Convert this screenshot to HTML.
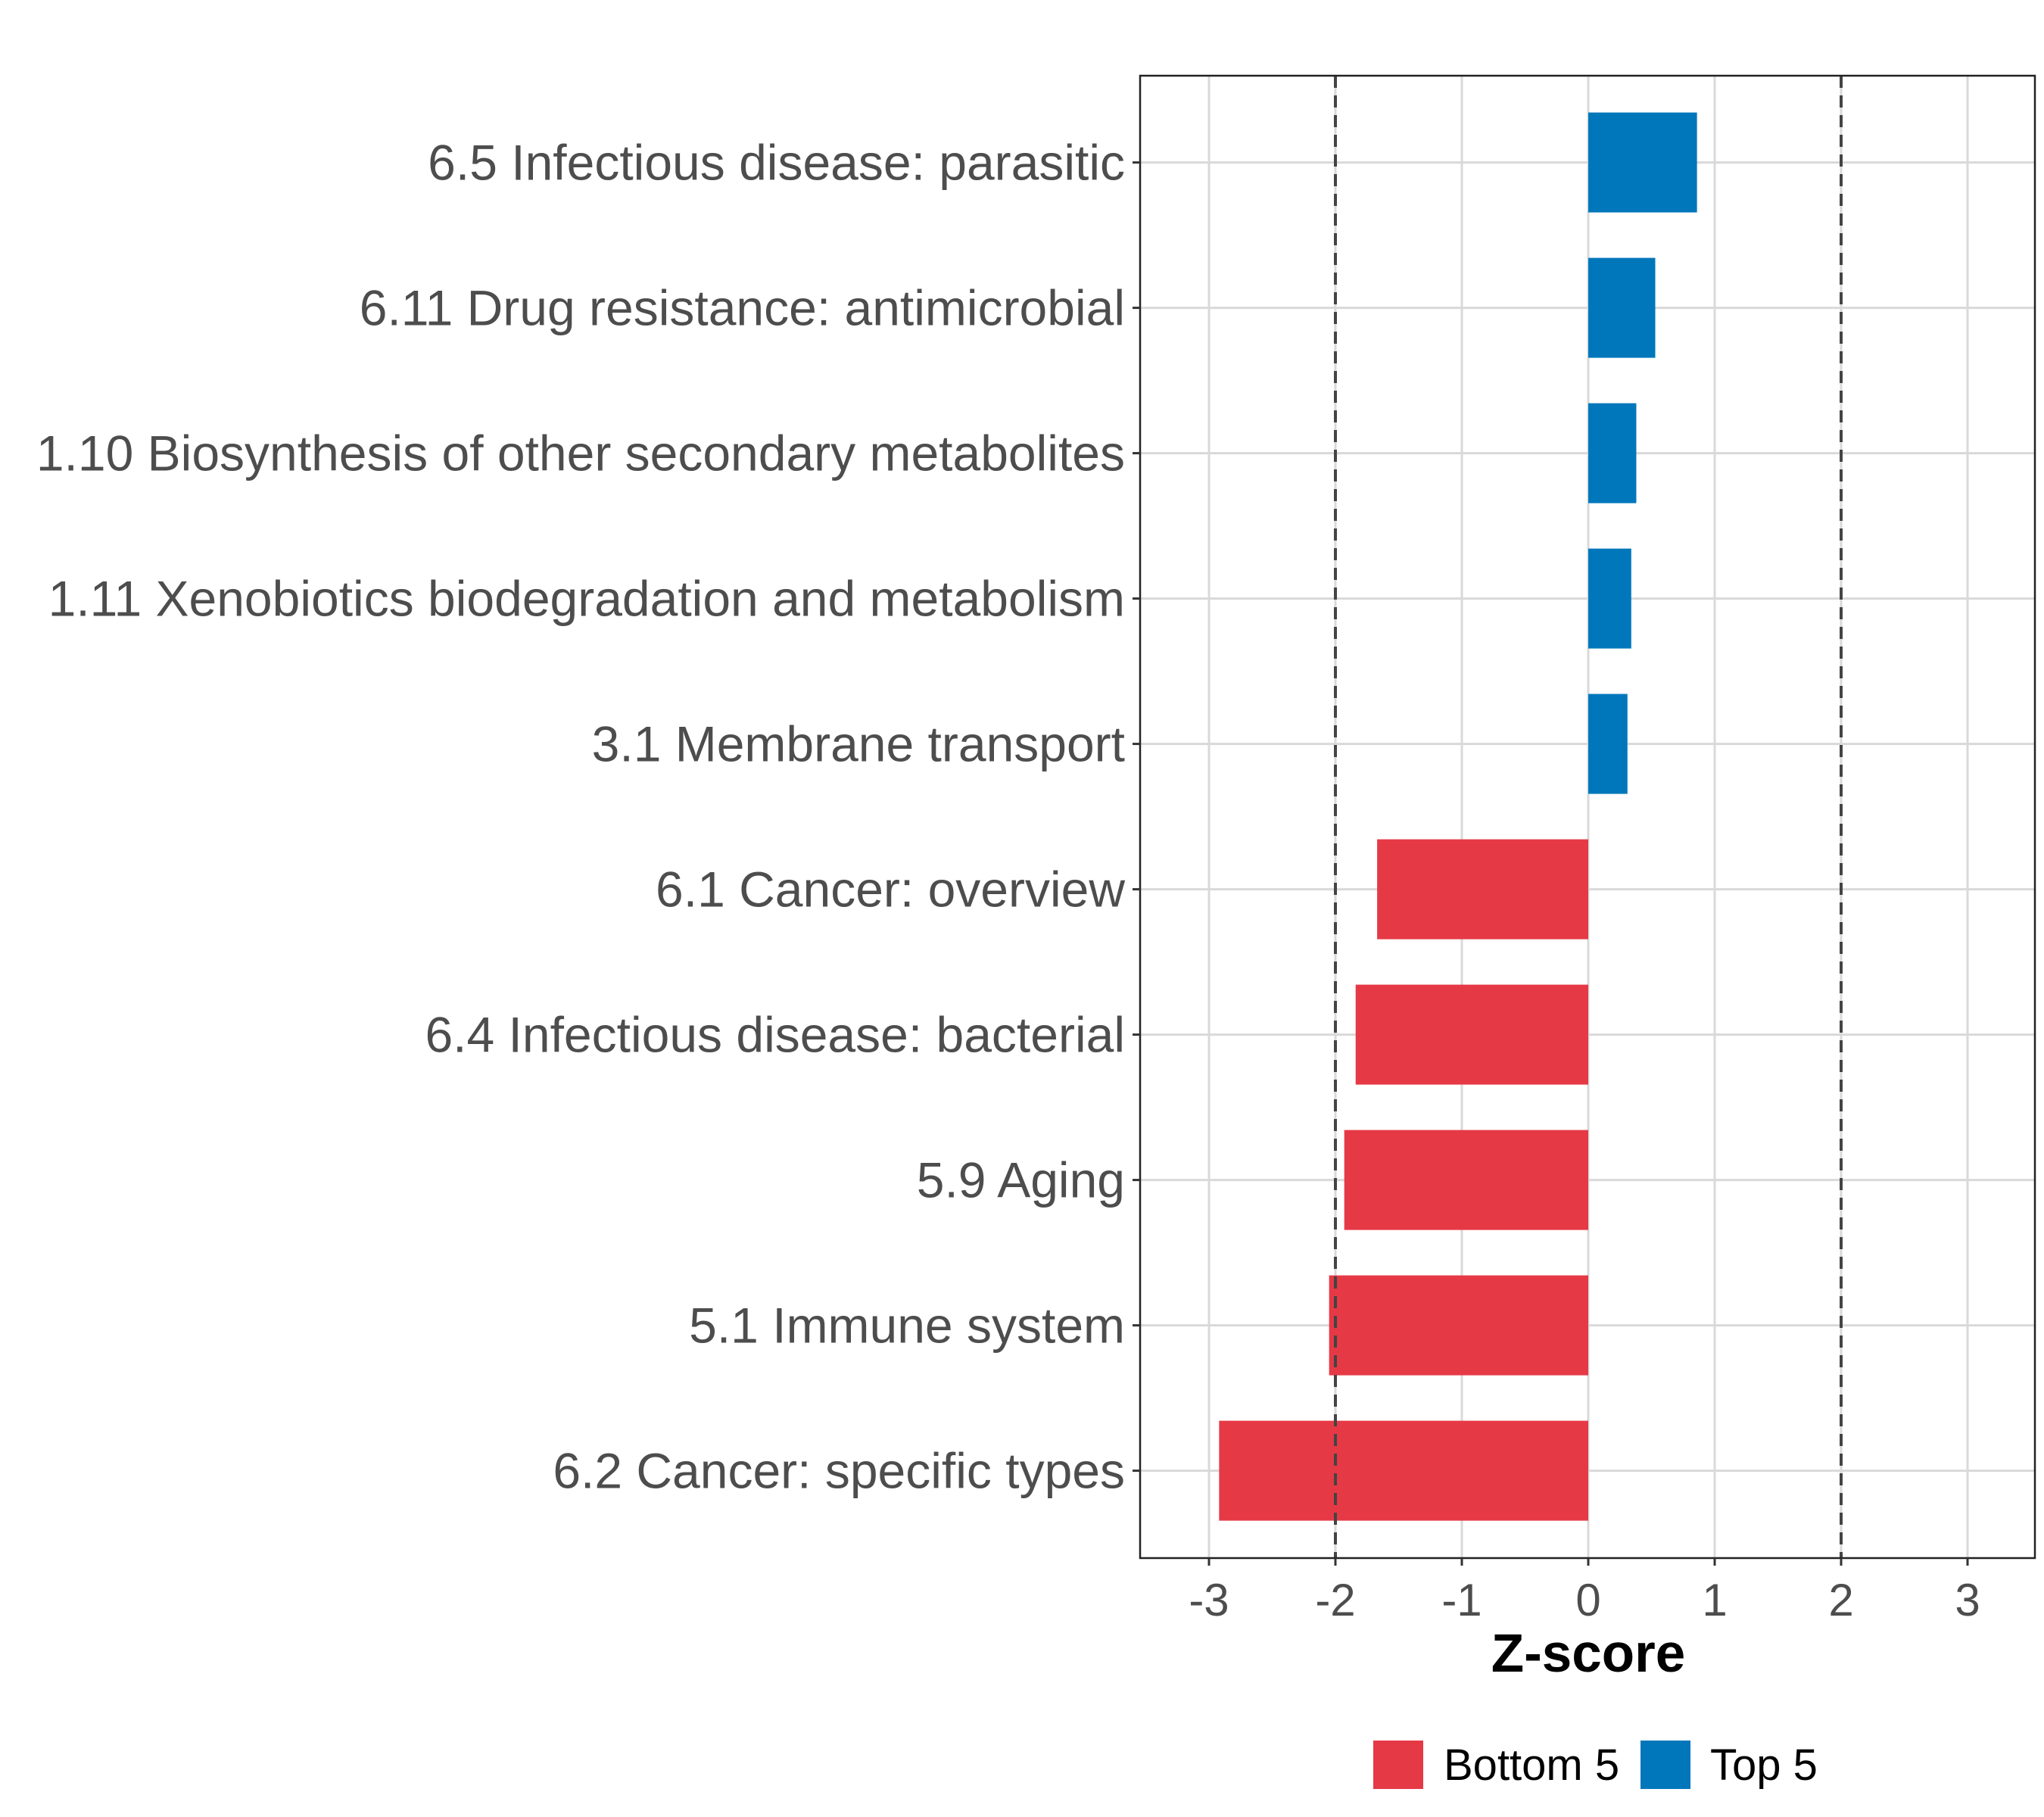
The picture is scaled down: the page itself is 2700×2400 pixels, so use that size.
<!DOCTYPE html>
<html><head><meta charset="utf-8"><style>html,body{margin:0;padding:0;background:#fff}svg{display:block}</style></head>
<body>
<svg id="chart" width="2700" height="2400" xmlns="http://www.w3.org/2000/svg" font-family="Liberation Sans, Arial, sans-serif"></svg>
<script>
const categories = ["6.5 Infectious disease: parasitic","6.11 Drug resistance: antimicrobial","1.10 Biosynthesis of other secondary metabolites","1.11 Xenobiotics biodegradation and metabolism","3.1 Membrane transport","6.1 Cancer: overview","6.4 Infectious disease: bacterial","5.9 Aging","5.1 Immune system","6.2 Cancer: specific types"];
const zValues = [0.86,0.53,0.38,0.34,0.31,-1.67,-1.84,-1.93,-2.05,-2.92];
const groups = ["Top 5","Top 5","Top 5","Top 5","Top 5","Bottom 5","Bottom 5","Bottom 5","Bottom 5","Bottom 5"];
const xTicks = [-3,-2,-1,0,1,2,3];
const thresholds = [-2,2];

const svg = document.getElementById('chart');
const NS = 'http://www.w3.org/2000/svg';
const L=1506,R=2688,T=100,B=2058,X0=2098,UNIT=167,ROW0=214.6,STEP=192,BH=132;
const colors={"Top 5":"#0077bb","Bottom 5":"#e63946"};
function xs(v){return X0+v*UNIT;}
function ys(i){return ROW0+i*STEP;}
function mk(tag,attrs,parent){const e=document.createElementNS(NS,tag);for(const k in attrs)e.setAttribute(k,attrs[k]);(parent||svg).appendChild(e);return e;}

xTicks.forEach(t=>{const g=mk('line',{x1:xs(t),x2:xs(t),y1:T,y2:B,stroke:'#d9d9d9','stroke-width':3});

});
categories.forEach((c,i)=>{const g=mk('line',{x1:L,x2:R,y1:ys(i),y2:ys(i),stroke:'#d9d9d9','stroke-width':3});

});

categories.forEach((c,i)=>{const v=zValues[i];const x=Math.min(xs(0),xs(v));
const r=mk('rect',{x:x,y:ys(i)-BH/2,width:Math.abs(xs(v)-xs(0)),height:BH,fill:colors[groups[i]]});

});

thresholds.forEach(t=>{const l=mk('line',{x1:xs(t),x2:xs(t),y1:T,y2:B,stroke:'#444','stroke-width':4,'stroke-dasharray':'16,10'});

});

const pb=mk('rect',{x:L,y:T,width:R-L,height:B-T,fill:'none',stroke:'#222','stroke-width':2.5});



categories.forEach((c,i)=>{mk('line',{x1:L-10,x2:L,y1:ys(i),y2:ys(i),stroke:'#333','stroke-width':3});
const t=mk('text',{x:L-20,y:ys(i)+23,'text-anchor':'end','font-size':66,fill:'#4d4d4d'});t.textContent=c;

});

xTicks.forEach(v=>{mk('line',{x1:xs(v),x2:xs(v),y1:B,y2:B+10,stroke:'#333','stroke-width':3});
const t=mk('text',{x:xs(v),y:B+76,'text-anchor':'middle','font-size':60,fill:'#4d4d4d'});t.textContent=(v<0?'-'+Math.abs(v):v);

});

const xt=mk('text',{x:X0,y:2208,'text-anchor':'middle','font-size':71,'font-weight':'bold',fill:'#000'});xt.textContent='Z-score';



[["Bottom 5",1814,1907],["Top 5",2167,2259]].forEach(([g,kx,tx])=>{
const k=mk('rect',{x:kx,y:2299,width:66,height:64,fill:colors[g]});


const t=mk('text',{x:tx,y:2351,'font-size':58,fill:'#000'});t.textContent=g;

});
</script>
</body></html>
